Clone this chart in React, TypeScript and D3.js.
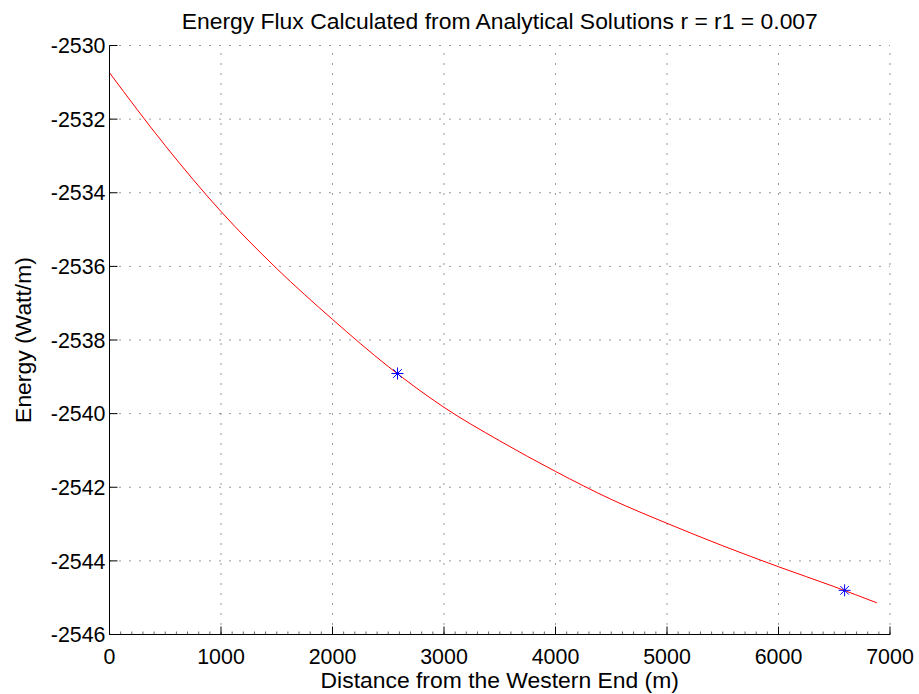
import React from "react";
import * as d3 from "d3";

const distance = [0, 500, 1000, 1500, 2000, 2500, 3000, 3500, 4000, 4500, 5000, 5500, 6000, 6500, 6882];
const energy = [-2530.74, -2532.72, -2534.51, -2536.06, -2537.44, -2538.72, -2539.83, -2540.74, -2541.57, -2542.33, -2542.98, -2543.59, -2544.16, -2544.70, -2545.14];
const markerX = [2583, 6593];
const markerY = [-2538.91, -2544.80];
const xTicks = [0, 1000, 2000, 3000, 4000, 5000, 6000, 7000];
const yTicks = [-2546, -2544, -2542, -2540, -2538, -2536, -2534, -2532, -2530];
const titleText = "Energy Flux Calculated from Analytical Solutions r = r1 = 0.007";
const xLabel = "Distance from the Western End (m)";
const yLabel = "Energy (Watt/m)";

const W = 919, H = 694;
const L = 109.5, R = 890, T = 45.5, B = 634.5;
const FONT = "'Liberation Sans', Arial, Helvetica, sans-serif";
const TICK_FS = 21.4;
const LABEL_FS = 22.9;

export default function App() {
  const x = d3.scaleLinear().domain([0, 7000]).range([L, R]);
  const y = d3.scaleLinear().domain([-2546, -2530]).range([B, T]);
  const pts = distance.map((d, i) => [d, energy[i]] as [number, number]);
  const line = d3.line<[number, number]>().x(d => x(d[0])).y(d => y(d[1])).curve(d3.curveMonotoneX);
  const fmt = (v: number) => d3.format("d")(v).replace("\u2212", "-");
  const minor = d3.range(0, 7001, 100);
  return (
    <svg width={W} height={H} style={{ position: "absolute", left: 0, top: 0, background: "#fff" }} fontFamily={FONT}>
      <rect x={0} y={0} width={W} height={H} fill="#fff" />
      {xTicks.filter(t => t > 0).map(t => (
        <line key={"gx" + t} x1={x(t)} x2={x(t)} y1={B} y2={T} stroke="#333" strokeWidth={1} strokeDasharray="1 9" />
      ))}
      {yTicks.filter(t => t > -2546).map(t => (
        <line key={"gy" + t} x1={L} x2={R} y1={y(t)} y2={y(t)} stroke="#333" strokeWidth={1} strokeDasharray="1 9" />
      ))}
      <path d={line(pts) || ""} fill="none" stroke="#ff0000" strokeWidth={1} />
      {markerX.map((mx, i) => {
        const cx = x(mx), cy = y(markerY[i]);
        const s = 6, d = 4.3;
        return (
          <g key={"m" + i} stroke="#0000ff" strokeWidth={1}>
            <line x1={cx - s} x2={cx + s} y1={cy} y2={cy} />
            <line x1={cx} x2={cx} y1={cy - s} y2={cy + s} />
            <line x1={cx - d} x2={cx + d} y1={cy - d} y2={cy + d} />
            <line x1={cx - d} x2={cx + d} y1={cy + d} y2={cy - d} />
          </g>
        );
      })}
      <line x1={L} x2={R} y1={B} y2={B} stroke="#000" strokeWidth={1} />
      <line x1={L} x2={L} y1={B} y2={T} stroke="#000" strokeWidth={1} />
      {minor.map(t => (
        <line key={"mx" + t} x1={x(t)} x2={x(t)} y1={B} y2={B - 3} stroke="#000" strokeWidth={0.6} />
      ))}
      {xTicks.map(t => (
        <g key={"tx" + t}>
          <line x1={x(t)} x2={x(t)} y1={B} y2={B - 8} stroke="#000" strokeWidth={1} />
          <text x={x(t)} y={B + 29.5} textAnchor="middle" fontSize={TICK_FS} fill="#000">{fmt(t)}</text>
        </g>
      ))}
      {yTicks.map(t => (
        <g key={"ty" + t}>
          <line x1={L} x2={L + 8} y1={y(t)} y2={y(t)} stroke="#000" strokeWidth={1} />
          <text x={L - 4} y={y(t) + 7.7} textAnchor="end" fontSize={TICK_FS} fill="#000">{fmt(t)}</text>
        </g>
      ))}
      <text x={(L + R) / 2} y={28.5} textAnchor="middle" fontSize={LABEL_FS} fill="#000">{titleText}</text>
      <text x={(L + R) / 2} y={688} textAnchor="middle" fontSize={LABEL_FS} fill="#000">{xLabel}</text>
      <text transform={`translate(31, ${(T + B) / 2}) rotate(-90)`} textAnchor="middle" fontSize={LABEL_FS} fill="#000">{yLabel}</text>
    </svg>
  );
}
